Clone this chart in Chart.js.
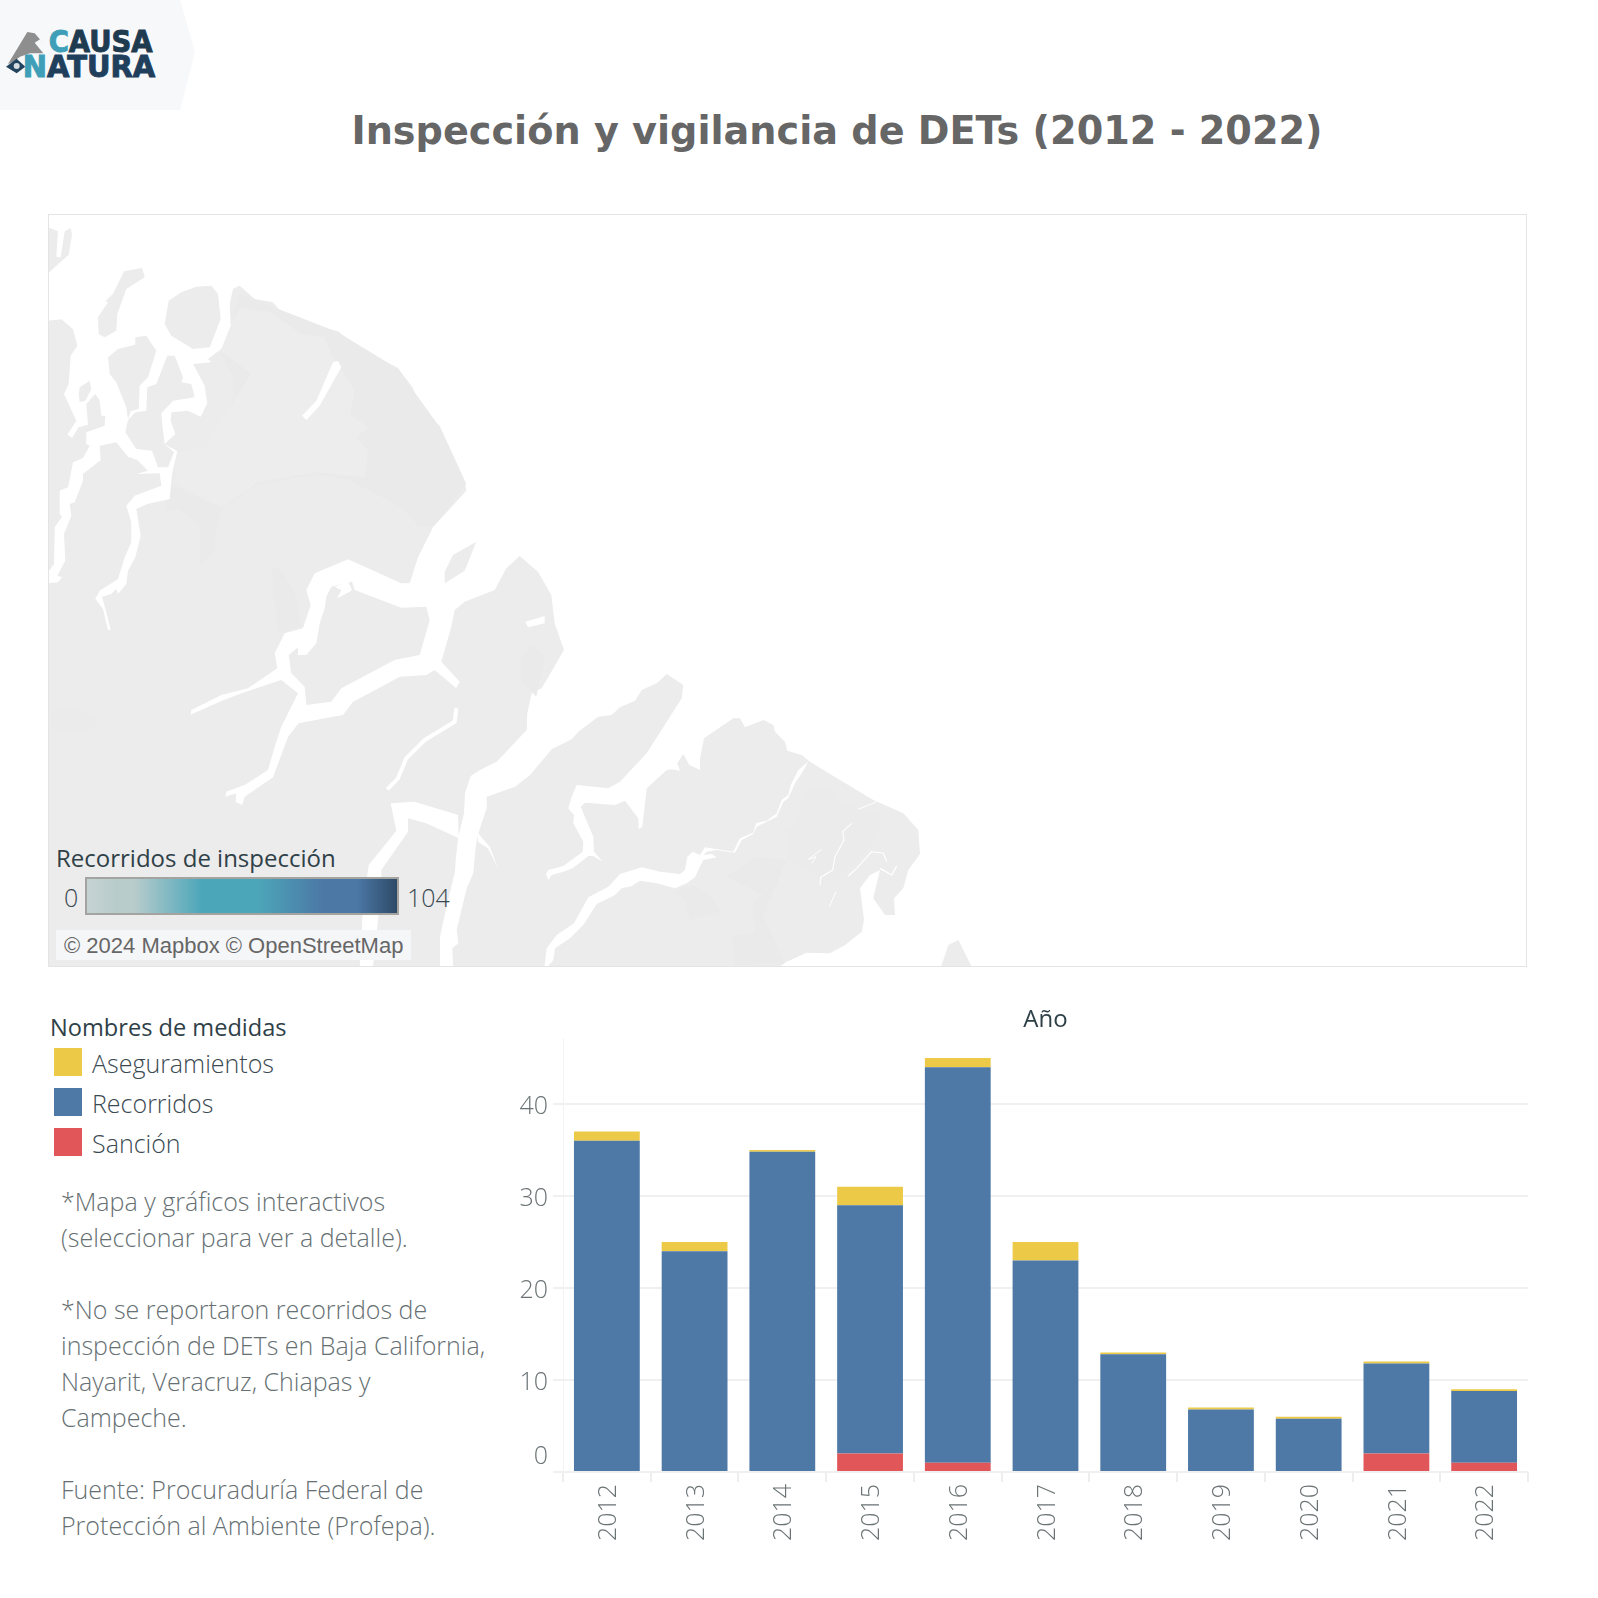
<!DOCTYPE html>
<html>
<head>
<meta charset="utf-8">
<script src="https://cdn.jsdelivr.net/npm/chart.js@4"></script>
<style>
  html, body { margin: 0; padding: 0; background: #fff; }
  body { width: 1598px; height: 1598px; position: relative; overflow: hidden; font-family: "Open Sans", sans-serif; }
  .t { position: absolute; white-space: nowrap; line-height: 1; }
  .light { font-weight: 300; }
  .swatch { position: absolute; left: 54px; width: 28px; height: 28px; }
  #chartBox { position: absolute; left: 500px; top: 1000px; width: 1098px; height: 598px; }
  #ramp { position: absolute; left: 85px; top: 877px; width: 310px; height: 34px; border: 2px solid #a3a3a0;
    background: linear-gradient(to right, #c5d3d3 0%, #b9cccc 9%, #b9cccc 15%, #4ca6b9 37%, #4ca6b9 55%, #4c78a6 76%, #4c78a6 87%, #2e4a68 100%); }
  #attr { position: absolute; left: 56px; top: 930px; width: 355px; height: 30px; background: #f5f6f8; color: #666;
    font: 22px "Liberation Sans", sans-serif; line-height: 32px; text-indent: 8px; white-space: nowrap; }
</style>
</head>
<body>
<svg id="bg" width="1598" height="1000" style="position:absolute;left:0;top:0"></svg>

<div class="t" id="title" style="left:0;width:1674px;text-align:center;top:109px;font:bold 38.2px 'DejaVu Sans';color:#666">Inspección y vigilancia de DETs (2012 - 2022)</div>

<div class="t" style="left:56px;top:846px;font-size:24px;color:#2f4148">Recorridos de inspección</div>
<div class="t light" style="left:64px;top:885px;font-size:25px;color:#3b4a52">0</div>
<div id="ramp"></div>
<div class="t light" style="left:407px;top:885px;font-size:25px;color:#3b4a52">104</div>
<div id="attr">© 2024 Mapbox © OpenStreetMap</div>

<div class="t" style="left:50px;top:1016px;font-size:23.6px;color:#2f4148">Nombres de medidas</div>
<div id="legend"></div>
<div id="notes"></div>

<div id="chartBox"><canvas id="barChart" width="1098" height="598"></canvas></div>

<script>
// data
const years = ['2012','2013','2014','2015','2016','2017','2018','2019','2020','2021','2022'];
const sancion = [0, 0, 0, 2, 1, 0, 0, 0, 0, 2, 1];
const recorridos = [36, 24, 34.8, 27, 43, 23, 12.8, 6.8, 5.8, 9.8, 7.8];
const aseguramientos = [1, 1, 0.2, 2, 1, 2, 0.2, 0.2, 0.2, 0.2, 0.2];
const yTicks = [0, 10, 20, 30, 40];

const legendNames = ['Aseguramientos', 'Recorridos', 'Sanción'];
const legendColors = ['#EDC948', '#4E79A7', '#E15759'];

const notes = [
  '*Mapa y gráficos interactivos', '(seleccionar para ver a detalle).', '',
  '*No se reportaron recorridos de', 'inspección de DETs en Baja California,', 'Nayarit, Veracruz, Chiapas y', 'Campeche.', '',
  'Fuente: Procuraduría Federal de', 'Protección al Ambiente (Profepa).'
];

// legend and notes
legendNames.forEach((name, i) => {
  const top = 1048 + i * 40;
  document.getElementById('legend').insertAdjacentHTML('beforeend',
    `<div class="swatch" style="top:${top}px;background:${legendColors[i]}"></div>` +
    `<div class="t light" style="left:92px;top:${top + 3}px;font-size:25px;color:#3b4a52">${name}</div>`);
});
notes.forEach((line, i) => {
  document.getElementById('notes').insertAdjacentHTML('beforeend',
    `<div class="t light" style="left:61px;top:${1189 + i * 36}px;font-size:25px;color:#667073">${line}</div>`);
});

// base map; each list is in one of three frames
const frames = { a: [48, 214], b: [48, 540], c: [440, 650] };
function pts(frame, list) {
  const [ox, oy] = frames[frame];
  const out = [];
  for (let i = 0; i < list.length; i += 2) out.push((ox + list[i] / 3).toFixed(1) + ',' + (oy + list[i + 1] / 3).toFixed(1));
  return out;
}
let svg = '<defs><clipPath id="mapClip"><rect x="48" y="214" width="1478" height="752"/></clipPath></defs>';
// logo
svg += '<polygon points="0,0 180,0 195,52 180,110 0,110" fill="#f7f8fa"/>';
svg += '<g transform="scale(0.3333)">' +
  '<polygon points="24,192 82,96 104,100 132,132 120,118 104,128 130,160 90,160 60,170 40,185" fill="#8e8e8e"/>' +
  '<polygon points="18,200 50,176 76,200 50,220" fill="#23445f"/><circle cx="50" cy="198" r="9" fill="#d5dde2"/>' +
  '<text x="146" y="157" font-family="DejaVu Sans" font-weight="bold" font-size="92" textLength="312" lengthAdjust="spacingAndGlyphs" fill="#1f3b50" stroke="#1f3b50" stroke-width="3"><tspan fill="#3f9fb8" stroke="#3f9fb8">C</tspan>AUSA</text>' +
  '<text x="68" y="232" font-family="DejaVu Sans" font-weight="bold" font-size="92" textLength="398" lengthAdjust="spacingAndGlyphs" fill="#1f3f5c" stroke="#1f3f5c" stroke-width="3"><tspan fill="#3f9fb8" stroke="#3f9fb8">N</tspan>ATURA</text></g>';

const LAND = '#ececec';
const land = (p, fill) => { svg += `<polygon points="${p.join(' ')}" fill="${fill || LAND}"/>`; };
const water = p => land(p, '#fff');
const stream = (p, w) => { svg += `<polyline points="${p.join(' ')}" fill="none" stroke="#fff" stroke-width="${w}" stroke-linejoin="round"/>`; };

svg += '<g clip-path="url(#mapClip)">';
// western land
land(pts('a', [0,320,40,316,75,345,100,200,285,160,575,215,620,255,675,265,700,295,770,328,870,352,920,395,1050,462,1095,522,1110,575,1175,635,1250,800,1255,830,1155,940])
  .concat(pts('b', [1415,48,1470,95,1510,165,1520,250,1548,330]))
  .concat(pts('c', [305,115,275,130,262,190,260,240,170,335,120,360,92,378,75,430,72,490,55,560,47,630,45,665,22,760,0,860,0,960]))
  .concat(pts('a', [0,2300])));
// top left piece
land(pts('a', [0,40,30,52,25,128,38,130,50,52,68,42,72,62,62,122,0,178]));
// eastern land
land(pts('c', [140,440,225,410,270,375,335,298,395,268,415,245,475,200,515,195,540,172,585,152,605,120,650,100,680,72,730,105,725,145,620,310,540,395,505,415,410,405,395,440,385,475,402,495,400,520,430,575,428,605,370,648,325,660,318,672,325,690,335,675,370,665,398,655,445,618,460,618,488,635,462,605,460,560,422,470,435,458,525,465,555,452,595,505,596,538,607,530,620,415,680,360,695,358,720,362,712,340,730,312,748,345,780,360,780,325,792,265,880,205,900,205,915,232,970,210,1000,225,1005,245,1035,275,1042,302,1085,315,1110,335,1175,375,1300,450,1390,490,1435,540,1440,612,1405,660,1390,715,1362,745,1365,795,1335,795,1300,745,1315,680,1320,660,1290,675,1260,715,1272,810,1265,845,1215,885,1170,910,1100,908,1040,935,1005,960,315,960,40,960,37,895,55,880,50,840,80,715,100,670,107,590,115,550,140,475]));
land(pts('c', [1500,960,1525,885,1555,870,1600,960]));
// faint land shades
land(pts('a', [575,240,870,355,1050,465,1175,640,1255,810,1155,940,1110,935,1060,880,905,800,805,780,630,810,520,885,510,930,495,1020,455,1050,455,935,390,885,350,890,365,810,520,880,560,500,520,420,548,330]), '#eaeaea');
land(pts('a', [580,280,665,295,760,360,830,370,850,420,920,530,905,600,960,640,925,670,960,710,950,790,800,775,630,805,520,880,390,810,385,715,470,700,610,480,520,410,548,330]), '#ededed');
land(pts('b', [670,80,700,90,740,160,760,260,690,280]), '#eaeaea');
land(pts('b', [0,520,70,500,155,545,110,585,0,565]), '#ebebeb');
land(pts('b', [1420,350,1455,318,1490,345,1465,470,1420,420]), '#eaeaea');
land(pts('c', [700,725,760,705,815,740,840,785,750,810,738,755]), '#eaeaea');
land(pts('c', [1100,410,1180,420,1190,460,1330,490,1300,580,1180,700,1040,630,1040,540,1065,530]), '#ebebeb');
land(pts('c', [860,680,950,620,1040,630,970,795,1035,940,885,945,875,855,945,850,940,755,985,725,1000,750]), '#eaeaea');

// rivers of the west
water(pts('a', [75,345,88,395,68,425,62,510,48,540,85,620,58,662,72,672,92,640,120,632,115,570,142,540,155,560,160,605,172,605,170,635,115,655,115,690,125,695,105,732,75,745,60,820,35,830,35,900,42,908,20,940,18,1050,0,1075,0,1108,30,1105,42,1090,28,1085,52,1040,48,960,70,905,65,870,80,865,105,800,105,780,158,738,155,695,205,685,240,728,268,738,300,770,265,780,335,778,340,815,260,845,235,875,250,925,250,985,230,1030,210,1095,155,1130,142,1155,165,1185,180,1248,188,1248,175,1195,162,1148,190,1140,205,1125,210,1140,235,1110,240,1070,262,1030,278,965,265,885,298,870,365,855,372,780,388,712,350,690,382,660,368,620,370,595,420,590,458,608,478,568,470,515,435,450,490,445,480,435,520,405,548,335,545,270,555,225,575,215,575,120,75,120]));
land(pts('a', [180,430,210,405,262,392,262,370,295,365,325,410,300,490,275,515,272,585,248,592,240,615,235,580,205,505,185,480]));
land(pts('a', [358,425,380,425,405,490,400,505,430,510,440,550,375,560,340,598,345,650,350,690,378,715,360,760,330,760,312,710,265,705,232,655,240,618,262,595,295,590,298,520,325,510]));
land(pts('a', [150,310,180,265,172,262,195,240,228,172,282,162,290,190,235,225,208,300,205,350,170,370,152,360]));
land(pts('a', [350,330,362,260,400,235,445,218,490,215,510,240,518,315,485,400,435,405,370,365]));
land(pts('a', [95,520,125,500,130,525,112,560,95,565,92,540]));
water(pts('a', [855,445,870,440,880,460,815,575,775,618,762,605,805,560]));

// main river network
water(pts('b', [1085,130,1060,130,900,58,800,100,775,150,788,195,765,265,710,280,680,340,688,385,600,445,520,465,430,510,428,524,520,483,585,458,700,420,750,460,735,490,700,560,680,620,660,690,590,735,535,755,532,770,565,760,563,785,582,795,590,770,675,712,720,590,752,550,855,530,885,525,915,485,1000,440,1055,410,1135,405,1160,390,1225,445,1235,425,1180,365,1210,260,1220,210,1250,185,1340,150,1375,85,1415,48,1400,-60,1176,-60,1155,-38,1110,52]));
land(pts('b', [1135,200,1060,203,920,150,912,125,850,140,835,170,830,205,815,250,805,310,775,345,750,345,750,322,722,345,730,400,770,440,775,495,850,485,880,445,1040,360,1115,345,1145,240]));
land(pts('b', [1190,95,1215,45,1285,5,1250,92,1190,130]));
water(pts('b', [868,175,905,155,912,150,900,125,860,140,880,150]));
water(pts('b', [1432,245,1490,228,1490,250,1440,262]));
stream(pts('b', [1225,505,1220,545,1130,600,1075,655,1050,715,1018,748]), 4);
water(pts('b', [1230,825,1100,785,1028,790,1045,872,962,975,945,1100,935,1280,975,1280,1000,1050,1000,990,1080,875,1080,835,1135,850,1232,895]));
water(pts('b', [1290,880,1325,920,1350,985,1320,925,1290,905]));

// channel in the south east
water(pts('c', [815,612,830,622,790,630,775,660,765,682,740,700,705,715,650,700,600,692,575,708,545,715,525,735,470,762,430,825,390,865,345,895,340,930,315,960,312,960,320,895,350,855,402,820,445,742,505,710,540,672,605,652,660,665,720,672,735,660,742,620,758,605,780,615,795,592,880,605,900,565,940,548,948,520,980,512,1010,490,1025,450,1045,435,1052,405,1075,360,1105,335,1085,370,1065,400,1045,445,1030,455,1010,500,950,530,940,552,905,570,885,608,830,600,800,605,790,615]));
water(pts('c', [570,450,598,435,600,500]));
stream(pts('c', [1235,520,1208,545,1212,570,1185,620,1178,660,1142,682,1140,705]), 1.1);
stream(pts('c', [1145,598,1105,628,1128,620,1115,640]), 1);
stream(pts('c', [1188,725,1168,770]), 1);
stream(pts('c', [1225,678,1250,655,1295,605,1330,610,1340,635]), 1.1);
stream(pts('c', [1320,655,1355,675,1370,648]), 1.4);
stream(pts('c', [1255,478,1310,455]), 1);
svg += '</g>';
svg += '<rect x="48.5" y="214.5" width="1478" height="752" fill="none" stroke="#e4e4e4"/>';
document.getElementById('bg').innerHTML = svg;

// bar chart
const lightFont = { family: '"Open Sans"', size: 25, weight: '300' };
// short line height lets blank lines nudge a y label up or down
const yFont = { family: '"Open Sans"', size: 25, weight: '300', lineHeight: 0.24 };
new Chart(document.getElementById('barChart'), {
  type: 'bar',
  data: {
    labels: years,
    datasets: [
      { label: legendNames[2], data: sancion, backgroundColor: legendColors[2] },
      { label: legendNames[1], data: recorridos, backgroundColor: legendColors[1] },
      { label: legendNames[0], data: aseguramientos, backgroundColor: legendColors[0] }
    ]
  },
  options: {
    responsive: false,
    animation: false,
    devicePixelRatio: 1,
    barPercentage: 0.75,
    categoryPercentage: 1,
    layout: { padding: { left: 0, right: 70, top: 0, bottom: 0 } },
    plugins: {
      legend: { display: false },
      tooltip: { enabled: false },
      title: {
        display: true,
        text: 'Año',
        fullSize: false,
        color: '#2f4148',
        font: { family: '"Open Sans"', size: 24, weight: '400' },
        padding: { top: 5.6, bottom: 3.6 }
      }
    },
    scales: {
      x: {
        stacked: true,
        afterFit: s => { s.height = 126; },
        grid: { offset: true, drawOnChartArea: false, color: '#eeeeee', tickLength: 10, lineWidth: 2 },
        border: { display: false },
        ticks: { autoSkip: false, maxRotation: 90, minRotation: 90, padding: 2, labelOffset: 2, color: '#6b7375', font: lightFont }
      },
      y: {
        stacked: true,
        min: 0,
        max: 47.17,
        afterFit: s => { s.width = 63; },
        afterBuildTicks: s => { s.ticks = yTicks.map(v => ({ value: v })); },
        grid: { color: '#f0f0f0', tickLength: 10, lineWidth: 2 },
        border: { display: true, color: '#f3f3f3', width: 1 },
        // the 0 label sits above its line, the others a little below
        ticks: { padding: 5, color: '#6b7375', font: yFont, callback: v => v === 0 ? ['0', '', '', '', '', ''] : ['', v] }
      }
    }
  }
});
</script>
</body>
</html>
